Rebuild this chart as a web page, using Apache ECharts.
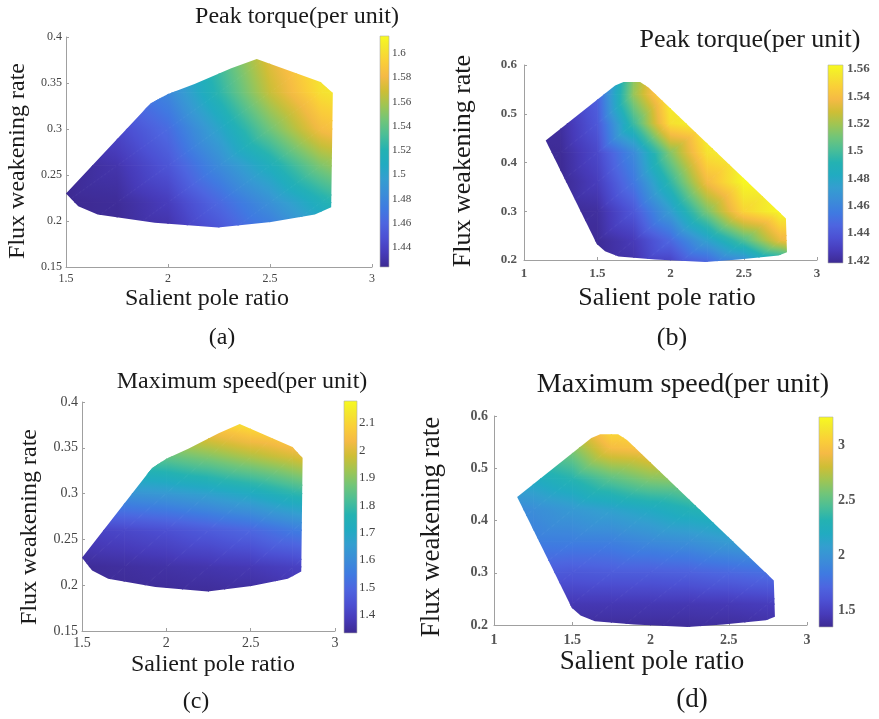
<!DOCTYPE html>
<html>
<head>
<meta charset="utf-8">
<script src="https://cdn.jsdelivr.net/npm/echarts@6/dist/echarts.min.js"></script>
<style>
  html, body { margin: 0; padding: 0; background: #fff; }
  #main { width: 879px; height: 719px; }
</style>
</head>
<body>
<div id="main"></div>
<script>
// ---------------------------------------------------------------
// Design space 1: salient pole ratio 1.5 - 3.0 (panels a, c)
// Values sampled on a regular grid; rows follow yGridA, columns xGridA.
// ---------------------------------------------------------------
const xGridA = [1.5, 1.75, 2.0, 2.25, 2.5, 2.75, 3.0];
const yGridA = [0.18, 0.22, 0.26, 0.30, 0.34, 0.38];

const peakTorqueA = [
  [1.424, 1.424, 1.428, 1.447, 1.466, 1.491, 1.510],
  [1.424, 1.426, 1.437, 1.462, 1.487, 1.515, 1.538],
  [1.424, 1.432, 1.451, 1.483, 1.513, 1.548, 1.572],
  [1.424, 1.443, 1.464, 1.502, 1.544, 1.582, 1.599],
  [1.434, 1.453, 1.481, 1.523, 1.567, 1.601, 1.614],
  [1.443, 1.462, 1.492, 1.532, 1.576, 1.608, 1.614]
];

const maxSpeedC = [
  [1.33, 1.33, 1.33, 1.33, 1.33, 1.35, 1.38],
  [1.34, 1.35, 1.36, 1.37, 1.38, 1.40, 1.42],
  [1.40, 1.42, 1.44, 1.47, 1.50, 1.55, 1.59],
  [1.60, 1.62, 1.64, 1.67, 1.71, 1.77, 1.82],
  [1.80, 1.82, 1.85, 1.89, 1.94, 1.99, 2.05],
  [1.98, 2.02, 2.06, 2.10, 2.15, 2.18, 2.18]
];

// Feasible region boundary (salient pole ratio, flux weakening rate)
const domainA = [
  [1.5, 0.230], [1.56, 0.216], [1.655, 0.207], [1.935, 0.198], [2.245, 0.193],
  [2.505, 0.199], [2.72, 0.207], [2.80, 0.215], [2.808, 0.339], [2.748, 0.351],
  [2.435, 0.376], [2.31, 0.366], [2.13, 0.349], [2.0, 0.338], [1.915, 0.328]
];

// ---------------------------------------------------------------
// Design space 2: salient pole ratio 1.0 - 3.0 (panels b, d)
// ---------------------------------------------------------------
const xGridB = [1.0, 1.25, 1.5, 1.75, 2.0, 2.25, 2.5, 2.75, 3.0];
const yGridB = [0.18, 0.24, 0.30, 0.36, 0.42, 0.48, 0.54, 0.60];

const peakTorqueB = [
  [1.418, 1.418, 1.418, 1.422, 1.424, 1.435, 1.447, 1.462, 1.476],
  [1.418, 1.418, 1.419, 1.427, 1.447, 1.475, 1.502, 1.535, 1.556],
  [1.418, 1.418, 1.421, 1.440, 1.473, 1.512, 1.549, 1.562, 1.563],
  [1.418, 1.418, 1.428, 1.454, 1.495, 1.538, 1.562, 1.563, 1.563],
  [1.418, 1.419, 1.433, 1.463, 1.514, 1.554, 1.563, 1.563, 1.563],
  [1.418, 1.421, 1.440, 1.498, 1.553, 1.563, 1.563, 1.563, 1.563],
  [1.418, 1.418, 1.444, 1.518, 1.560, 1.563, 1.563, 1.563, 1.563],
  [1.418, 1.418, 1.447, 1.514, 1.556, 1.563, 1.563, 1.563, 1.563]
];

const maxSpeedD = [
  [1.35, 1.35, 1.35, 1.35, 1.35, 1.35, 1.35, 1.37, 1.39],
  [1.45, 1.45, 1.45, 1.45, 1.45, 1.45, 1.46, 1.48, 1.50],
  [1.67, 1.66, 1.64, 1.66, 1.67, 1.69, 1.73, 1.77, 1.81],
  [1.84, 1.86, 1.87, 1.88, 1.94, 1.98, 2.06, 2.11, 2.15],
  [1.88, 1.96, 2.04, 2.11, 2.19, 2.29, 2.36, 2.40, 2.44],
  [2.15, 2.21, 2.33, 2.50, 2.62, 2.66, 2.69, 2.73, 2.76],
  [2.31, 2.42, 2.62, 2.95, 3.00, 3.00, 3.00, 3.00, 3.03],
  [2.50, 2.70, 2.95, 3.24, 3.24, 3.24, 3.24, 3.24, 3.24]
];

const domainB = [
  [1.148, 0.445], [1.622, 0.558], [1.679, 0.565], [1.793, 0.565], [1.85, 0.554],
  [2.788, 0.285], [2.795, 0.216], [2.738, 0.209], [2.465, 0.201], [2.237, 0.196],
  [1.895, 0.201], [1.645, 0.207], [1.553, 0.218], [1.497, 0.233]
];

// Colour bar limits and tick labels
const cbarRangeA = [1.424, 1.614];
const cbarTicksA = [1.44, 1.46, 1.48, 1.5, 1.52, 1.54, 1.56, 1.58, 1.6];
const cbarRangeB = [1.418, 1.563];
const cbarTicksB = [1.42, 1.44, 1.46, 1.48, 1.5, 1.52, 1.54, 1.56];
const cbarRangeC = [1.333, 2.18];
const cbarTicksC = [1.4, 1.5, 1.6, 1.7, 1.8, 1.9, 2, 2.1];
const cbarRangeD = [1.35, 3.26];
const cbarTicksD = [1.5, 2, 2.5, 3];

// Axis extents
const xAxisA = [1.5, 3];
const yAxisA = [0.15, 0.4];
const xAxisB = [1, 3];
const yAxisB = [0.2, 0.6];

const titles = ['Peak torque(per unit)', 'Peak torque(per unit)', 'Maximum speed(per unit)', 'Maximum speed(per unit)'];
const captions = ['(a)', '(b)', '(c)', '(d)'];
const xTitle = 'Salient pole ratio';
const yTitle = 'Flux weakening rate';

// ---------------------------------------------------------------
// parula-style colour map (slightly muted blues)
// ---------------------------------------------------------------
const PARULA_POS = [0, 4, 8, 12, 16, 20, 24, 28, 32, 36, 40, 44, 48, 52, 56, 60, 63].map(i => i / 63);
const PARULA_RGB = [
  [61, 42, 146], [71, 59, 186], [76, 80, 211], [77, 101, 224], [63, 122, 225],
  [59, 141, 216], [52, 158, 208], [33, 171, 193], [36, 178, 178], [74, 190, 151],
  [113, 197, 121], [159, 197, 83], [206, 190, 53], [245, 186, 69], [250, 207, 56],
  [244, 232, 45], [248, 250, 31]
];
function parula(t) {
  t = Math.max(0, Math.min(1, t));
  let k = 0;
  while (k < PARULA_POS.length - 2 && t > PARULA_POS[k + 1]) k++;
  const f = (t - PARULA_POS[k]) / (PARULA_POS[k + 1] - PARULA_POS[k]);
  const a = PARULA_RGB[k], b = PARULA_RGB[k + 1];
  const c = [0, 1, 2].map(i => Math.round(a[i] + (b[i] - a[i]) * f));
  return 'rgb(' + c.join(',') + ')';
}
function colorOf(v, range) {
  return parula((v - range[0]) / (range[1] - range[0]));
}

// A triangle whose colour varies linearly with the value at its corners
function shadedTriangle(P, V, range) {
  const [A, B, C] = P;
  const [va, vb, vc] = V;
  const d1x = B[0] - A[0], d1y = B[1] - A[1];
  const d2x = C[0] - A[0], d2y = C[1] - A[1];
  const det = d1x * d2y - d1y * d2x;
  const dv1 = vb - va, dv2 = vc - va;
  const vmin = Math.min(va, vb, vc), vmax = Math.max(va, vb, vc);
  let paint;
  if (Math.abs(det) < 1e-9 || vmax - vmin < 1e-9) {
    paint = colorOf(va, range);
  } else {
    const gx = (dv1 * d2y - d1y * dv2) / det;
    const gy = (d1x * dv2 - d2x * dv1) / det;
    const g2 = gx * gx + gy * gy;
    const s0 = (vmin - va) / g2, s1 = (vmax - va) / g2;
    const stops = [];
    const n = 8;
    for (let k = 0; k <= n; k++) {
      stops.push({ offset: k / n, color: colorOf(vmin + (vmax - vmin) * k / n, range) });
    }
    paint = {
      type: 'linear', global: true,
      x: A[0] + gx * s0, y: A[1] + gy * s0,
      x2: A[0] + gx * s1, y2: A[1] + gy * s1,
      colorStops: stops
    };
  }
  return {
    type: 'polygon',
    shape: { points: [A, B, C] },
    style: { fill: paint, stroke: paint, lineWidth: 0.9 }
  };
}

// Interpolated surface over the feasible region
function surfaceSeries(axisIndex, xs, ys, vals, domain, range) {
  const cells = [];
  for (let j = 0; j < ys.length - 1; j++) {
    for (let i = 0; i < xs.length - 1; i++) {
      cells.push([xs[i], ys[j], i, j]);
    }
  }
  return {
    type: 'custom',
    coordinateSystem: 'cartesian2d',
    xAxisIndex: axisIndex,
    yAxisIndex: axisIndex,
    silent: true,
    encode: { x: 0, y: 1 },
    data: cells,
    renderItem(params, api) {
      const i = api.value(2), j = api.value(3);
      const pt = (a, b) => api.coord([xs[a], ys[b]]);
      const P00 = pt(i, j), P10 = pt(i + 1, j), P01 = pt(i, j + 1), P11 = pt(i + 1, j + 1);
      const v00 = vals[j][i], v10 = vals[j][i + 1], v01 = vals[j + 1][i], v11 = vals[j + 1][i + 1];
      return {
        type: 'group',
        clipPath: { type: 'polygon', shape: { points: domain.map(d => api.coord(d)) } },
        children: [
          shadedTriangle([P00, P10, P11], [v00, v10, v11], range),
          shadedTriangle([P00, P11, P01], [v00, v11, v01], range)
        ]
      };
    }
  };
}

// Colour bar drawn on its own value axis
function colorbarSeries(axisIndex, range) {
  return {
    type: 'custom',
    coordinateSystem: 'cartesian2d',
    xAxisIndex: axisIndex,
    yAxisIndex: axisIndex,
    silent: true,
    data: [[0, range[0]]],
    renderItem(params, api) {
      const lo = api.coord([0, range[0]]);
      const hi = api.coord([1, range[1]]);
      const stops = PARULA_POS.map((p, k) => ({ offset: p, color: 'rgb(' + PARULA_RGB[k].join(',') + ')' }));
      return {
        type: 'rect',
        shape: { x: lo[0], y: hi[1], width: hi[0] - lo[0], height: lo[1] - hi[1] },
        style: {
          fill: { type: 'linear', x: 0, y: 1, x2: 0, y2: 0, colorStops: stops },
          stroke: '#b0b0b0', lineWidth: 0.6
        }
      };
    }
  };
}

// ---------------------------------------------------------------
// Layout of the four panels
// ---------------------------------------------------------------
const FONT = '"Liberation Serif", "Times New Roman", serif';
const panels = [
  {
    xs: xGridA, ys: yGridA, vals: peakTorqueA, domain: domainA,
    xr: xAxisA, yr: yAxisA, xStep: 0.5, yStep: 0.05,
    range: cbarRangeA, ticks: cbarTicksA,
    plot: { left: 66, top: 37, width: 306, height: 230 },
    bar: { left: 380, top: 36, width: 9, height: 231 },
    tickSize: 12, tickWeight: 'normal', tickColor: '#444', xMargin: 6, yMargin: 4, barSize: 11, barMargin: 3,
    title: [297, 17, 24], xName: [207, 299, 24], yName: [18, 161, 24], cap: [222, 338, 24]
  },
  {
    xs: xGridB, ys: yGridB, vals: peakTorqueB, domain: domainB,
    xr: xAxisB, yr: yAxisB, xStep: 0.5, yStep: 0.1,
    range: cbarRangeB, ticks: cbarTicksB,
    plot: { left: 524, top: 65, width: 293, height: 195 },
    bar: { left: 828, top: 65, width: 15, height: 198 },
    tickSize: 13, tickWeight: 'bold', tickColor: '#555', xMargin: 7, yMargin: 7, barSize: 13, barMargin: 4,
    title: [750, 40, 26], xName: [667, 298, 26], yName: [463, 161, 26], cap: [672, 338, 26]
  },
  {
    xs: xGridA, ys: yGridA, vals: maxSpeedC, domain: domainA,
    xr: xAxisA, yr: yAxisA, xStep: 0.5, yStep: 0.05,
    range: cbarRangeC, ticks: cbarTicksC,
    plot: { left: 82, top: 402, width: 253, height: 229 },
    bar: { left: 344, top: 401, width: 13, height: 232 },
    tickSize: 14, tickWeight: 'normal', tickColor: '#444', xMargin: 5, yMargin: 4, barSize: 13, barMargin: 2,
    title: [242, 382, 24], xName: [213, 665, 24], yName: [30, 527, 24], cap: [196, 702, 24]
  },
  {
    xs: xGridB, ys: yGridB, vals: maxSpeedD, domain: domainB,
    xr: xAxisB, yr: yAxisB, xStep: 0.5, yStep: 0.1,
    range: cbarRangeD, ticks: cbarTicksD,
    plot: { left: 494, top: 416, width: 313, height: 209 },
    bar: { left: 819, top: 417, width: 14, height: 210 },
    tickSize: 14, tickWeight: 'bold', tickColor: '#555', xMargin: 8, yMargin: 6, barSize: 14, barMargin: 5,
    title: [683, 385, 28], xName: [652, 662, 27], yName: [432, 527, 27], cap: [692, 700, 27]
  }
];

const AXIS_GREY = '#a0a0a0';
const fmt = v => String(+(+v).toFixed(3));

function textEl(str, pos, rot) {
  return {
    type: 'text', x: pos[0], y: pos[1], rotation: rot || 0, silent: true,
    style: {
      text: str, font: pos[2] + 'px ' + FONT, fill: '#1a1a1a',
      textAlign: 'center', textVerticalAlign: 'middle', align: 'center', verticalAlign: 'middle'
    }
  };
}

const grid = [], xAxis = [], yAxis = [], series = [], graphic = [];
panels.forEach((p, k) => {
  const gi = grid.length;
  grid.push(Object.assign({ containLabel: false, outerBoundsMode: 'none' }, p.plot));
  const label = (m) => ({
    margin: m, color: p.tickColor, fontFamily: FONT, fontSize: p.tickSize, fontWeight: p.tickWeight,
    showMinLabel: true, showMaxLabel: true, formatter: fmt
  });
  xAxis.push({
    gridIndex: gi, type: 'value', min: p.xr[0], max: p.xr[1], interval: p.xStep,
    axisLine: { show: true, onZero: false, lineStyle: { color: AXIS_GREY, width: 1 } },
    axisTick: { show: true, inside: true, length: 3, lineStyle: { color: AXIS_GREY } },
    splitLine: { show: false },
    axisLabel: label(p.xMargin)
  });
  yAxis.push({
    gridIndex: gi, type: 'value', min: p.yr[0], max: p.yr[1], interval: p.yStep,
    axisLine: { show: true, onZero: false, lineStyle: { color: AXIS_GREY, width: 1 } },
    axisTick: { show: true, inside: true, length: 3, lineStyle: { color: AXIS_GREY } },
    splitLine: { show: false },
    axisLabel: label(p.yMargin)
  });
  series.push(surfaceSeries(gi, p.xs, p.ys, p.vals, p.domain, p.range));

  const bi = grid.length;
  grid.push(Object.assign({ containLabel: false, outerBoundsMode: 'none' }, p.bar));
  xAxis.push({ gridIndex: bi, type: 'value', min: 0, max: 1, show: false });
  yAxis.push({
    gridIndex: bi, type: 'value', position: 'right', min: p.range[0], max: p.range[1],
    axisLine: { show: false }, axisTick: { show: false }, splitLine: { show: false },
    axisLabel: {
      customValues: p.ticks, margin: p.barMargin, color: p.tickColor, fontFamily: FONT,
      fontSize: p.barSize, fontWeight: p.tickWeight, formatter: fmt
    }
  });
  series.push(colorbarSeries(bi, p.range));

  graphic.push(textEl(titles[k], p.title));
  graphic.push(textEl(xTitle, p.xName));
  graphic.push(textEl(yTitle, p.yName, Math.PI / 2));
  graphic.push(textEl(captions[k], p.cap));
});

const chart = echarts.init(document.getElementById('main'), null, { renderer: 'canvas' });
chart.setOption({
  backgroundColor: '#ffffff',
  animation: false,
  grid, xAxis, yAxis, series, graphic
});
</script>
</body>
</html>
